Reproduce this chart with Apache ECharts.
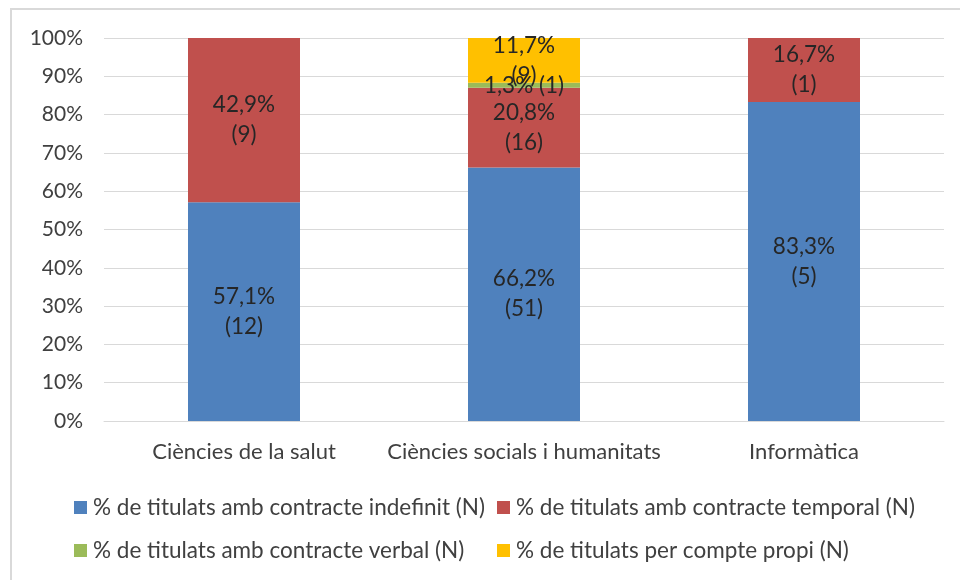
<!DOCTYPE html>
<html>
<head>
<meta charset="utf-8">
<script src="https://cdn.jsdelivr.net/npm/echarts@6/dist/echarts.min.js"></script>
<style>html,body{margin:0;padding:0;background:#fff}#c{width:960px;height:580px}</style>
</head>
<body>
<div id="c"></div>
<script>
const categories = ['Ciències de la salut', 'Ciències socials i humanitats', 'Informàtica'];
const seriesNames = [
  '% de titulats amb contracte indefinit (N)',
  '% de titulats amb contracte temporal (N)',
  '% de titulats amb contracte verbal (N)',
  '% de titulats per compte propi (N)'
];
const indefinitPct = [57.1, 66.2, 83.3];
const indefinitN = [12, 51, 5];
const temporalPct = [42.9, 20.8, 16.7];
const temporalN = [9, 16, 1];
const verbalPct = [0, 1.3, 0];
const verbalN = [0, 1, 0];
const propiPct = [0, 11.7, 0];
const propiN = [0, 9, 0];
const yTicks = [0, 10, 20, 30, 40, 50, 60, 70, 80, 90, 100];

const colors = ['#4F81BD', '#C0504D', '#9BBB59', '#FFC000'];
const FONT = 'Lato';

function fmtPct(v) { return v.toFixed(1).replace('.', ',') + '%'; }

function makeSeries(i, pct, n, oneLine) {
  return {
    name: seriesNames[i],
    type: 'bar',
    stack: 'total',
    barWidth: '40%',
    itemStyle: { color: colors[i] },
    label: {
      show: true,
      position: 'inside',
      color: '#262626',
      fontFamily: FONT,
      fontSize: 22.5,
      lineHeight: 30,
      formatter: function (p) {
        const v = pct[p.dataIndex];
        if (!v) return '';
        return fmtPct(v) + (oneLine ? ' ' : '\n') + '(' + n[p.dataIndex] + ')';
      }
    },
    emphasis: { disabled: true },
    data: pct
  };
}

const chart = echarts.init(document.getElementById('c'), null, { renderer: 'canvas' });

function legendAt(i, left, top) {
  return {
    data: [seriesNames[i]],
    left: left, top: top,
    icon: 'rect',
    itemWidth: 13, itemHeight: 13,
    padding: 0,
    selectedMode: false,
    textStyle: { fontFamily: FONT, fontSize: 22.5, color: '#404040', padding: [0, 0, 0, 1] }
  };
}

chart.setOption({
  animation: false,
  backgroundColor: '#ffffff',
  graphic: [{
    type: 'rect',
    shape: { x: 11, y: 9, width: 1000, height: 1000 },
    style: { fill: 'none', stroke: '#d9d9d9', lineWidth: 2 },
    silent: true
  }],
  grid: { left: 104, right: 16, top: 38, bottom: 159 },
  legend: [
    legendAt(0, 74, 496),
    legendAt(1, 497, 496),
    legendAt(2, 74, 539),
    legendAt(3, 497, 539)
  ],
  xAxis: {
    type: 'category',
    data: categories,
    axisTick: { show: false },
    axisLine: { lineStyle: { color: '#d9d9d9', width: 1 } },
    axisLabel: { color: '#404040', fontFamily: FONT, fontSize: 22, margin: 20, interval: 0 }
  },
  yAxis: {
    type: 'value',
    min: yTicks[0], max: yTicks[yTicks.length - 1], interval: 10,
    axisLine: { show: false },
    axisTick: { show: false },
    splitLine: { lineStyle: { color: '#d9d9d9', width: 1 } },
    axisLabel: { color: '#404040', fontFamily: FONT, fontSize: 21, margin: 21, formatter: '{value}%' }
  },
  series: [
    makeSeries(0, indefinitPct, indefinitN, false),
    makeSeries(1, temporalPct, temporalN, false),
    makeSeries(2, verbalPct, verbalN, true),
    makeSeries(3, propiPct, propiN, false)
  ]
});
</script>
</body>
</html>
